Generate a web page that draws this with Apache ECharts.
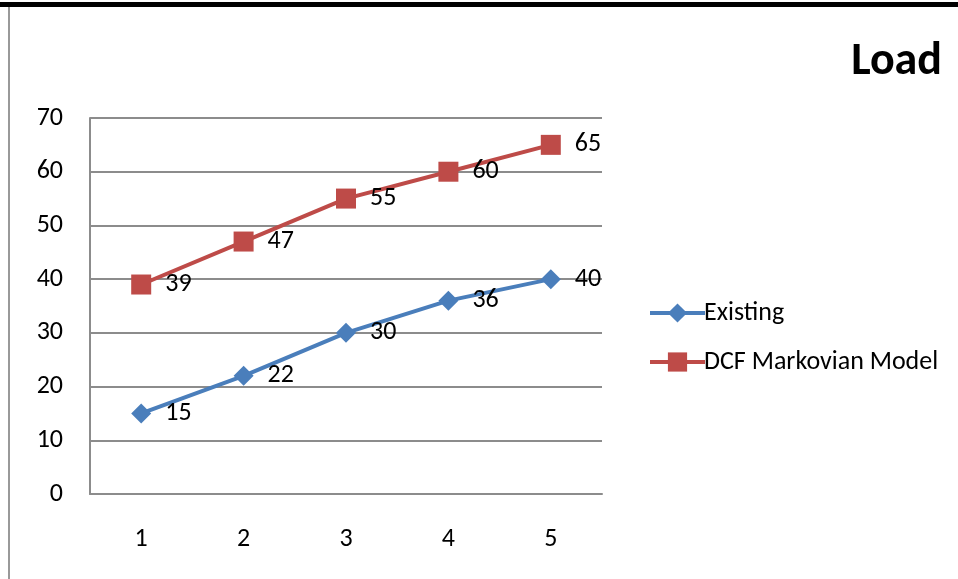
<!DOCTYPE html>
<html>
<head>
<meta charset="utf-8">
<script src="https://cdn.jsdelivr.net/npm/echarts@6/dist/echarts.min.js"></script>
<style>
  html, body { margin: 0; padding: 0; background: #fff; }
  #chart { width: 958px; height: 579px; }
</style>
</head>
<body>
<div id="chart"></div>
<script>
// Load per step for the two approaches
const categories = ['1', '2', '3', '4', '5'];
const existing = [15, 22, 30, 36, 40];
const dcfMarkovian = [39, 47, 55, 60, 65];
const yTicks = { min: 0, max: 70, interval: 10 };

const FONT = 'Carlito, Calibri, Lato, sans-serif';
const BLUE = '#4A7EBB';
const RED = '#BE4B48';
const TEXT_SIZE = 26;

const chart = echarts.init(document.getElementById('chart'), null, { renderer: 'canvas' });

const valueLabel = {
  show: true,
  position: 'right',
  distance: 14,
  color: '#000',
  fontFamily: FONT,
  fontSize: TEXT_SIZE
};

chart.setOption({
  animation: false,
  backgroundColor: '#fff',
  title: {
    text: 'Load',
    right: 11,
    top: 34,
    textStyle: { fontFamily: FONT, fontSize: 46, fontWeight: 'bold', color: '#000' }
  },
  graphic: [
    { type: 'rect', shape: { x: 0, y: 2, width: 958, height: 5 }, style: { fill: '#000' } },
    { type: 'rect', shape: { x: 8, y: 7, width: 2, height: 572 }, style: { fill: '#999' } }
  ],
  legend: {
    orient: 'vertical',
    left: 643,
    top: 295,
    itemWidth: 55,
    itemHeight: 24,
    itemGap: 23,
    lineStyle: { width: 4 },
    textStyle: { fontFamily: FONT, fontSize: TEXT_SIZE, color: '#000', padding: [0, 0, 0, -6] },
    data: ['Existing', 'DCF Markovian Model']
  },
  grid: { left: 90, right: 356, top: 118, bottom: 85, containLabel: false },
  xAxis: {
    type: 'category',
    data: categories,
    boundaryGap: true,
    axisLine: { show: true, lineStyle: { color: '#8c8c8c', width: 2 } },
    axisTick: { show: false },
    axisLabel: { margin: 32, color: '#000', fontFamily: FONT, fontSize: TEXT_SIZE }
  },
  yAxis: {
    type: 'value',
    min: yTicks.min,
    max: yTicks.max,
    interval: yTicks.interval,
    axisLine: { show: true, lineStyle: { color: '#8c8c8c', width: 2 } },
    axisTick: { show: false },
    splitLine: { show: true, lineStyle: { color: '#8c8c8c', width: 2 } },
    axisLabel: { margin: 27, color: '#000', fontFamily: FONT, fontSize: TEXT_SIZE }
  },
  series: [
    {
      name: 'Existing',
      type: 'line',
      data: existing,
      symbol: 'diamond',
      symbolSize: [20, 20],
      lineStyle: { color: BLUE, width: 4 },
      itemStyle: { color: BLUE },
      label: valueLabel
    },
    {
      name: 'DCF Markovian Model',
      type: 'line',
      data: dcfMarkovian,
      symbol: 'rect',
      symbolSize: [20, 20],
      lineStyle: { color: RED, width: 4 },
      itemStyle: { color: RED },
      label: valueLabel
    }
  ]
});
</script>
</body>
</html>
